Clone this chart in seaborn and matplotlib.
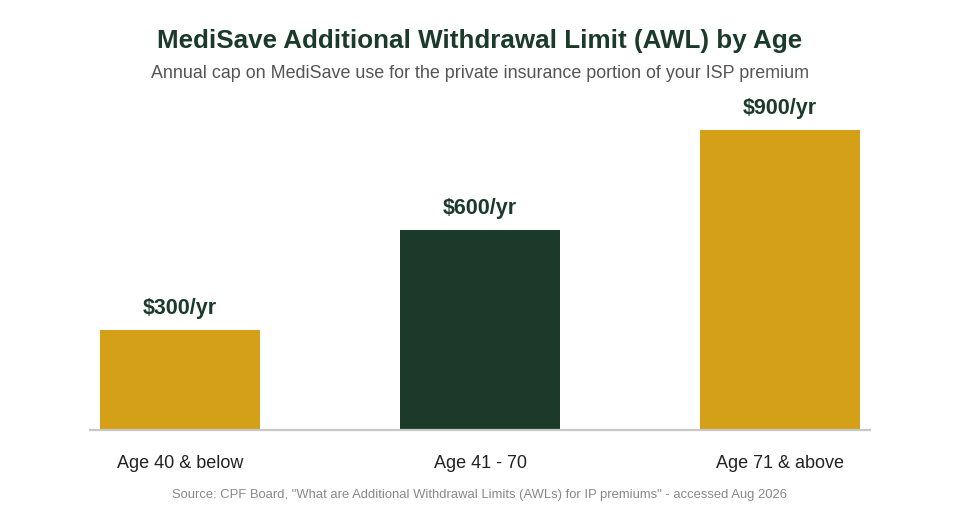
import matplotlib
matplotlib.use("Agg")
import matplotlib.pyplot as plt
import seaborn as sns
import pandas as pd

# Chart data
ages = ["Age 40 & below", "Age 41 - 70", "Age 71 & above"]
limits = [300, 600, 900]
labels = ["$300/yr", "$600/yr", "$900/yr"]
bar_colors = ["#D4A017", "#1B3A2A", "#D4A017"]

df = pd.DataFrame({"age": ages, "limit": limits})

sns.set_style("white")
plt.rcParams["font.family"] = ["Liberation Sans", "DejaVu Sans"]

fig = plt.figure(figsize=(9.6, 5.2), dpi=100)
ax = fig.add_axes([0.09375, 0.1731, 0.8125, 0.6346])

sns.barplot(data=df, x="age", y="limit", hue="age", palette=bar_colors,
            width=0.533, legend=False, saturation=1, linewidth=0, ax=ax)

ax.set_xlim(-0.3, 2.3)
ax.set_ylim(0, 990)

# value labels above bars
for i, (v, lab) in enumerate(zip(limits, labels)):
    ax.annotate(lab, (i, v), xytext=(0, 8), textcoords="offset points",
                ha="center", va="bottom", fontsize=15.5, fontweight="bold",
                color="#1B3A2A")

for s in ["top", "right", "left"]:
    ax.spines[s].set_visible(False)
ax.spines["bottom"].set_color("#c8c8c8")
ax.spines["bottom"].set_linewidth(1.6)

ax.set_yticks([])
ax.set_xlabel("")
ax.set_ylabel("")
ax.tick_params(axis="x", length=0, pad=18, labelsize=13, labelcolor="#222222")

fig.text(0.5, 0.921, "MediSave Additional Withdrawal Limit (AWL) by Age",
         ha="center", va="center", fontsize=18.7, fontweight="bold", color="#1B3A2A")
fig.text(0.5, 0.858, "Annual cap on MediSave use for the private insurance portion of your ISP premium",
         ha="center", va="center", fontsize=12.9, color="#555555")
fig.text(0.5, 0.048, "Source: CPF Board, \"What are Additional Withdrawal Limits (AWLs) for IP premiums\" - accessed Aug 2026",
         ha="center", va="center", fontsize=9.4, color="#888888")

fig.savefig("out.png", dpi=100)
